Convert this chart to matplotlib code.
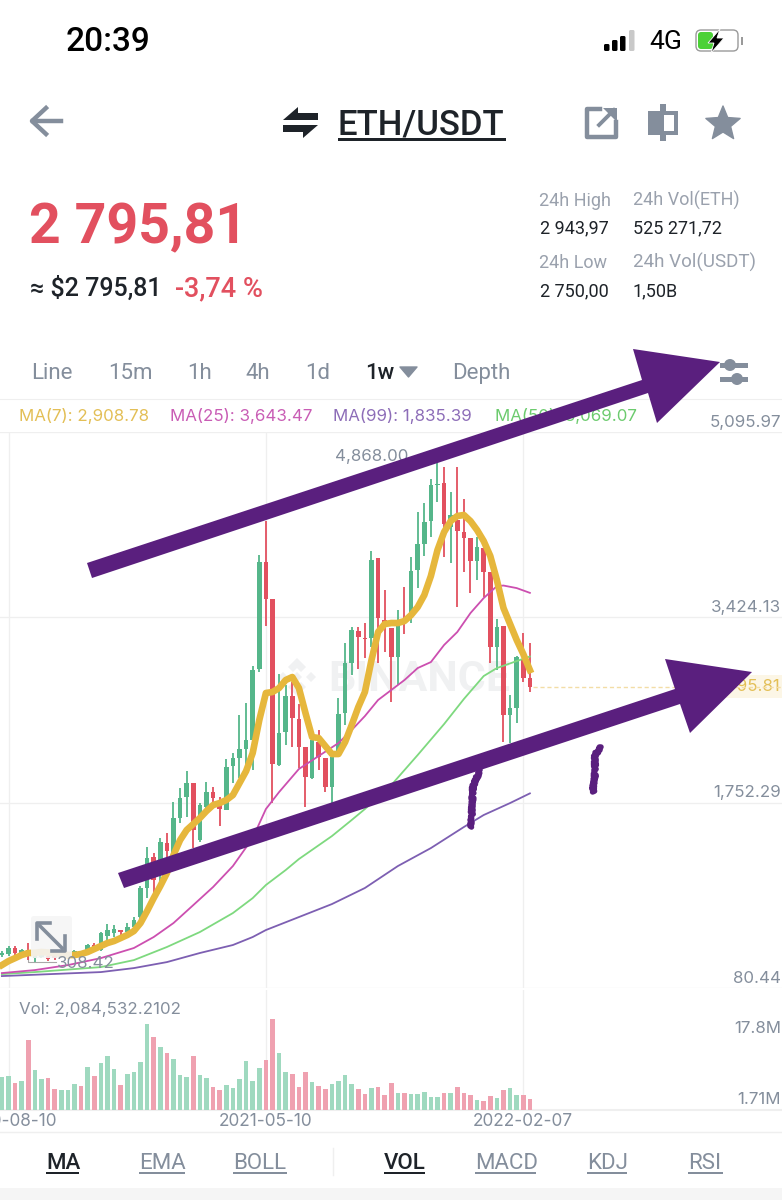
#!/usr/bin/env python
# -*- coding: utf-8 -*-

import numpy as np
import matplotlib
matplotlib.use('Agg')
import matplotlib.pyplot as plt
from matplotlib.patches import Polygon, Rectangle, FancyBboxPatch, Circle

# weekly candles ETH/USDT
opens = [378,387,441,378,423,350,360,369,378,360,360,378,405,414,468,423,549,576,603,585,
         630,720,982,1261,1234,1387,1297,1613,1802,1928,1414,1712,1847,1757,1685,2082,2154,2235,2316,2956,
         3921,3587,2091,2388,2713,2505,2253,1973,2298,2154,1892,2199,2559,3010,3299,3236,3236,3957,3398,3326,
         3064,3398,3416,3849,4083,4290,4615,4633,4236,4299,4191,4137,3930,4047,3831,3154,3344,2541,2604,3037,2875]
closes = [396,441,396,423,378,378,378,341,350,378,378,414,378,468,432,576,603,612,585,630,
          693,982,1252,1054,1396,1315,1613,1793,1928,1505,1730,1847,1793,1694,2073,2154,2235,2316,2947,3921,
          3587,2100,2379,2713,2514,2253,1982,2316,2163,1892,2163,2550,3010,3308,3245,3227,3939,3416,3362,3064,
          3353,3371,3840,4083,4281,4615,4624,4263,4345,4200,4137,3930,4056,3831,3154,3335,2541,2604,3064,2875,2795.81]
highs = [414,459,459,432,486,396,387,378,387,387,387,423,414,477,486,585,657,648,603,666,
         720,1000,1351,1297,1432,1477,1757,1883,2036,1928,1748,1937,1892,1802,2145,2199,2541,2650,2983,3984,
         4290,3587,2911,2812,2839,2641,2253,2325,2406,2154,2163,2695,3191,3335,3335,3371,4020,3957,3668,3326,
         3488,3695,3966,4372,4453,4669,4868,4777,4552,4777,4489,4137,4146,4047,3831,3407,3344,2722,3073,3281,3191]
lows = [360,369,378,369,332,314,350,323,332,350,350,369,360,405,414,414,468,540,513,558,
        603,693,891,918,1036,1261,1279,1568,1622,1342,1396,1703,1748,1541,1685,1928,1973,2073,2046,2929,
        3344,1748,2082,2271,2253,2064,1712,1964,2046,1847,1748,2199,2451,2902,2956,3055,3154,3010,3109,2659,
        2812,3272,3371,3686,3975,4146,4462,3966,3912,3515,3831,3641,3758,3605,3010,2947,2298,2289,2469,2839,2749]
volumes = [6.5,6.6,5.2,5.65,13.65,7.8,6.05,6.2,4.05,3.85,3.95,5.05,4.75,8.3,6.55,9.15,10.45,8.0,4.95,6.95,
           7.45,9.4,16.75,14.25,12.2,11.15,9.9,6.8,6.45,10.45,6.9,6.3,4.5,3.9,4.8,4.3,6.1,9.55,5.65,8.15,
           9.75,17.8,11.05,7.35,6.95,4.5,7.35,5.4,4.7,4.1,5.05,5.65,6.75,5.05,4.1,3.1,4.25,4.5,2.95,5.2,
           3.35,3.35,3.05,3.2,3.45,2.6,2.55,3.3,3.3,4.45,3.3,3.0,2.0,1.75,2.8,2.4,3.95,4.25,2.95,3.0,2.08]

ma7 = [287,323,350,378,396,398,405,400,396,387,378,378,387,405,432,459,486,504,531,558,
       594,666,774,891,1000,1117,1279,1414,1505,1559,1613,1676,1730,1748,1775,1820,1928,2036,2199,2496,
       2740,2749,2785,2857,2884,2785,2559,2343,2334,2262,2190,2190,2298,2451,2613,2749,3037,3290,3362,3371,
       3371,3389,3443,3515,3623,3795,4029,4191,4290,4336,4345,4290,4209,4110,3975,3758,3506,3362,3218,3091,2947]
ma25_weeks = [0,5,10,15,20,23,26,29,32,35,38,40,42,45,48,51,53,55,57,59,61,63,65,67,69,71,73,75,76,78,80]
ma25 = [215,242,287,350,441,540,666,828,991,1180,1432,1694,1847,2055,2172,2289,2406,2532,2677,2767,
        2857,2965,3019,3173,3290,3461,3596,3704,3709,3686,3643]
ma50_weeks = [0,5,15,20,25,30,35,38,40,43,45,50,53,55,59,63,67,70,73,75,78,80]
ma50 = [206,224,269,332,450,585,756,891,1009,1144,1243,1450,1595,1694,1910,2181,2460,2686,2893,2965,3028,3069]
ma99_weeks = [0,15,20,25,30,35,38,40,45,50,55,60,65,70,73,77,80]
ma99 = [188,224,260,314,396,468,540,603,720,837,982,1180,1342,1532,1640,1748,1835]

price_ticks = [80.44, 1752.29, 3424.13, 5095.97]
date_weeks = [1, 40, 79]
date_labels = ['2020-08-10', '2021-05-10', '2022-02-07']
last_price = 2795.81

GREEN = '#55B68A'
RED = '#E2505F'
GREY = '#848E9C'
DARK = '#1E2329'
PURPLE = '#5A1F7E'
GRID = '#EFEFEF'
UI = 'Roboto'
NUM = 'Inter'

fig = plt.figure(figsize=(7.82, 12), dpi=100, facecolor='white')

# pixel layers, one under the chart and one on top for the marker drawing
base = fig.add_axes([0, 0, 1, 1], zorder=0)
top = fig.add_axes([0, 0, 1, 1], zorder=5)
for a in (base, top):
  a.set_xlim(0, 782)
  a.set_ylim(1200, 0)
  a.axis('off')
  a.patch.set_alpha(0)

def txt(x, y, s, size, color=GREY, ha='left', weight='normal', family=UI, ax=base, **kw):
  # va center sits a little high on these fonts
  return ax.text(x, y + 0.1 * size + 0.5, s, fontsize=size, color=color, ha=ha, va='center',
                 fontweight=weight, family=family, **kw)

def bar_icon(ax, x0, y0, x1, y1, color):
  ax.add_patch(Rectangle((x0, y0), x1 - x0, y1 - y0, fc=color, ec='none'))

# status bar
txt(66, 39, '20:39', 24, 'black', weight='medium')
for bx, bh, bc in [(604, 7, 'black'), (612, 11, 'black'), (620, 15, 'black'), (629, 21, '#C9C9C9')]:
  base.add_patch(FancyBboxPatch((bx, 51 - bh), 5.5, bh, boxstyle='round,pad=0,rounding_size=1.5', fc=bc, ec='none'))
txt(649, 40, '4G', 19, 'black')
base.add_patch(FancyBboxPatch((696, 30), 42, 21, boxstyle='round,pad=0,rounding_size=5', fc='white', ec='#9A9A9A', lw=1))
base.add_patch(FancyBboxPatch((698, 32), 15, 17, boxstyle='round,pad=0,rounding_size=3', fc='#4CD137', ec='none'))
base.add_patch(Polygon([[720, 29], [708, 43], [714, 43], [711, 53], [724, 38], [717, 38]], fc='black', ec='white', lw=0.6))
bar_icon(base, 741, 37, 743, 45, '#9A9A9A')

# header
base.plot([33, 61], [121, 121], color=GREY, lw=3.2)
base.plot([46, 32, 46], [108, 121, 134], color=GREY, lw=3.2)
base.add_patch(Polygon([[283, 120], [318, 120], [318, 113], [298, 113], [298, 107]], fc=DARK))
base.add_patch(Polygon([[283, 125], [318, 125], [303, 138], [303, 132], [283, 132]], fc=DARK))
txt(338, 122, 'ETH/USDT', 25, DARK, weight='medium')
bar_icon(base, 338, 138, 506, 141, DARK)
# share
base.plot([600, 587, 587, 616, 616], [109, 109, 137, 137, 122], color=GREY, lw=3.2)
base.plot([599, 614], [125, 110], color=GREY, lw=2.8)
base.add_patch(Polygon([[603, 108], [617, 108], [617, 122]], fc=GREY))
# candle icon
bar_icon(base, 660, 104, 666, 141, GREY)
bar_icon(base, 648, 111, 678, 135, GREY)
bar_icon(base, 664, 115, 674, 131, 'white')
# star
ang = np.pi / 2 + np.arange(10) * np.pi / 5
rad = np.array([18, 8] * 5)
base.add_patch(Polygon(np.c_[723 + rad * np.cos(ang), 124 - rad * np.sin(ang)], fc=GREY, ec=GREY, lw=1, joinstyle='round'))

# price block
txt(29, 224, '2 795,81', 40, RED, weight='bold')
txt(30, 286, '≈ $2 795,81', 18, DARK, weight='medium', family=[UI, 'DejaVu Sans'])
txt(175, 286, '-3,74 %', 19.5, RED, weight='medium')
txt(539, 199, '24h High', 13, '#9AA1AD')
txt(633, 199, '24h Vol(ETH)', 13, '#9AA1AD')
txt(540, 227, '2 943,97', 13, DARK)
txt(633, 227, '525 271,72', 13, DARK)
txt(539, 261, '24h Low', 13, '#9AA1AD')
txt(633, 261, '24h Vol(USDT)', 13.5, '#9AA1AD')
txt(540, 290, '2 750,00', 13, DARK)
txt(633, 290, '1,50B', 13, DARK)

# interval tabs
for tx, ts in [(31, 'Line'), (108, '15m'), (187, '1h'), (245, '4h'), (305, '1d'), (452, 'Depth')]:
  txt(tx, 371, ts, 16, GREY)
txt(365, 371, '1w', 16, DARK, weight='medium')
base.add_patch(Polygon([[400, 367], [417, 367], [408.5, 377]], fc=GREY, ec=GREY, lw=1, joinstyle='round'))
for sy, kx in [(365, 730), (379, 737)]:
  top.add_patch(Rectangle((720, sy - 2.5), 28, 5, fc=GREY, ec='none'))
  top.add_patch(Circle((kx, sy), 6, fc=GREY, ec='none'))

# moving average legend
txt(19, 414, 'MA(7): 2,908.78', 12.2, '#E3BF56', family=NUM)
txt(170, 414, 'MA(25): 3,643.47', 12.2, '#C95DB5', family=NUM)
txt(333, 414, 'MA(99): 1,835.39', 12.2, '#8D6DB8', family=NUM)
txt(495, 414, 'MA(50): 3,069.07', 12.2, '#6CCB6E', family=NUM)
base.plot([0, 782], [399, 399], color=GRID, lw=0.8)

# watermark, sits under the candles
txt(328, 676, 'BINANCE', 31, '#F0F1F2', weight='bold')
base.add_patch(Polygon([[297, 658], [306, 667], [301, 672], [297, 668], [293, 672], [288, 667]], fc='#F0F1F2'))
base.add_patch(Polygon([[297, 672], [302, 677], [297, 682], [292, 677]], fc='#F0F1F2'))
base.add_patch(Polygon([[283, 672], [288, 677], [283, 682], [278, 677]], fc='#F0F1F2'))
base.add_patch(Polygon([[311, 672], [316, 677], [311, 682], [306, 677]], fc='#F0F1F2'))
base.add_patch(Polygon([[288, 687], [293, 682], [297, 686], [301, 682], [306, 687], [297, 696]], fc='#F0F1F2'))

# price chart
weeks = np.arange(len(opens))
xlim = (-0.288, 118.2)
ax = fig.add_axes([0, 1 - 988 / 1200, 1, (988 - 431.7) / 1200], zorder=1)
ax.patch.set_alpha(0)
ax.set_xlim(*xlim)
ax.set_ylim(price_ticks[0], price_ticks[-1])
for s in ax.spines.values():
  s.set_visible(False)
ax.set_yticks(price_ticks)
ax.set_xticks(date_weeks)
ax.tick_params(length=0, labelleft=False, labelbottom=False)
ax.grid(True, color=GRID, lw=0.9)
ax.set_axisbelow(True)

o = np.array(opens, dtype=float)
c = np.array(closes, dtype=float)
colors = [GREEN if cc >= oo else RED for oo, cc in zip(o, c)]
ax.vlines(weeks, lows, highs, colors=colors, lw=1.3, zorder=2)
ax.bar(weeks, np.maximum(np.abs(c - o), 12), bottom=np.minimum(o, c), width=0.7, color=colors, zorder=2)

ax.plot(ma99_weeks, ma99, color='#7D5FB2', lw=1.3, zorder=3)
ax.plot(ma50_weeks, ma50, color='#7ED97F', lw=1.3, zorder=3)
ax.plot(ma25_weeks, ma25, color='#CC4FB0', lw=1.3, zorder=3)
ax.plot(weeks, ma7, color='#E6B73C', lw=4.8, zorder=4, solid_joinstyle='round')
ax.plot([weeks[-1] + 0.4, 118.2], [last_price, last_price], color='#F3DDA6', lw=1, ls=(0, (3, 2)), zorder=1)

# volume panel
vax = fig.add_axes([0, 1 - 1110 / 1200, 1, 120 / 1200], zorder=1)
vax.patch.set_alpha(0)
vax.set_xlim(*xlim)
vax.set_ylim(0, 23.4)
for s in vax.spines.values():
  s.set_visible(False)
vax.set_yticks([])
vax.set_xticks(date_weeks)
vax.set_xticklabels(date_labels, fontsize=12.4, color=GREY, family=NUM)
vax.tick_params(axis='x', length=0, pad=2)
vax.grid(True, axis='x', color=GRID, lw=0.9)
vax.set_axisbelow(True)
vol_colors = ['#9FD9BF' if cc >= oo else '#EFA1B0' for oo, cc in zip(o, c)]
vax.bar(weeks, volumes, width=0.72, color=vol_colors)

# price scale and chart labels
bar_icon(base, 712, 675, 782, 698, '#FCF6E6')
for yl, ps in [(421, '5,095.97'), (606, '3,424.13'), (791, '1,752.29'), (977, '80.44')]:
  txt(781, yl, ps, 12.2, GREY, ha='right', family=NUM)
txt(781, 685, '2,795.81', 12.2, '#E3BF56', ha='right', family=NUM)
txt(335, 455, '4,868.00', 12.2, GREY, family=NUM)
txt(57, 962, '308.42', 12.2, GREY, family=NUM, ax=top)
base.plot([28, 28, 56], [956, 962, 962], color='#A8A8A8', lw=0.8)

txt(19, 1008, 'Vol: 2,084,532.2102', 12.2, GREY, family=NUM)
txt(781, 1027, '17.8M', 12.2, GREY, ha='right', family=NUM)
txt(781, 1098, '1.71M', 12.2, GREY, ha='right', family=NUM)
base.plot([0, 782], [1110, 1110], color=GRID, lw=1.5)
base.plot([0, 782], [1132, 1132], color=GRID, lw=1)

# expand button
top.add_patch(FancyBboxPatch((31, 916), 41, 42, boxstyle='round,pad=0,rounding_size=3', fc='#F5F5F5', ec='none', alpha=0.9))
top.plot([40, 62], [926, 948], color=GREY, lw=2.6)
top.plot([37, 37, 50], [939, 923, 923], color=GREY, lw=2.6)
top.plot([52, 65, 65], [951, 951, 936], color=GREY, lw=2.6)

# indicator tabs
for tx, ts, tw, tc in [(46, 'MA', 33, DARK), (139, 'EMA', 46, GREY), (233, 'BOLL', 54, GREY),
                       (384, 'VOL', 41, DARK), (475, 'MACD', 61, GREY), (587, 'KDJ', 40, GREY), (688, 'RSI', 35, GREY)]:
  txt(tx, 1161, ts, 16, tc, weight='medium' if tc == DARK else 'normal')
  bar_icon(base, tx, 1172, tx + tw, 1174, tc)
base.plot([333, 333], [1148, 1175], color=GRID, lw=1)
bar_icon(base, 0, 1188, 782, 1200, '#F5F5F5')

# hand drawn marker arrows
top.add_patch(Polygon([[87, 563], [642, 380], [633, 349], [720, 362], [657, 423], [648, 393], [92, 578]], fc=PURPLE, ec='none'))
top.add_patch(Polygon([[118, 873], [675, 689], [665, 659], [752, 672], [690, 733], [680, 704], [124, 888]], fc=PURPLE, ec='none'))
for sx, sy in [([480, 473, 472, 471], [770, 787, 810, 827]), ([601, 595, 595, 593], [747, 755, 773, 792])]:
  scribble, = top.plot(sx, sy, color=PURPLE, lw=4, solid_capstyle='round')
  scribble.set_sketch_params(1.5, 3, 2)

fig.savefig('out.png', dpi=100)
